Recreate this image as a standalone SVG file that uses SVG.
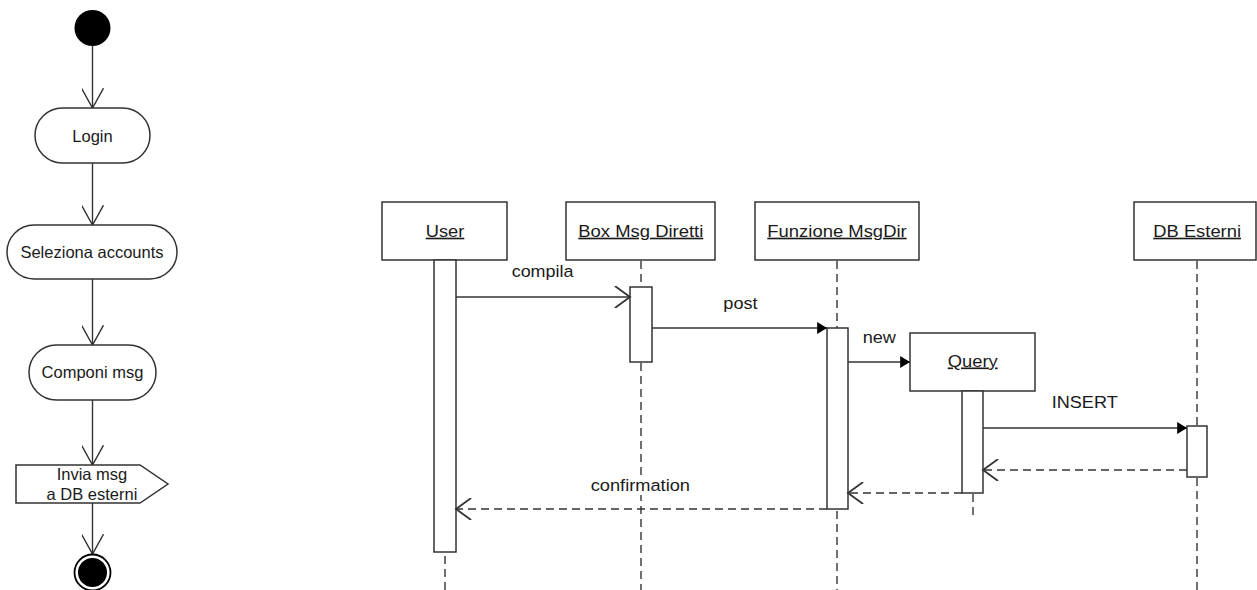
<svg xmlns="http://www.w3.org/2000/svg" width="1257" height="590" viewBox="0 0 1257 590">
<defs>
<style>
.ln{fill:none;stroke:#333;stroke-width:1.4}
.box{fill:#fff;stroke:#333;stroke-width:1.5}
.dash{fill:none;stroke:#333;stroke-width:1.4;stroke-dasharray:8 5}
.t{font-family:"Liberation Sans",Arial,sans-serif;fill:#1a1a1a}
.ta{font-size:16.5px;text-anchor:middle}
.ts{font-size:16.3px}
.u{text-decoration:underline}
</style>
<marker id="open" markerWidth="22" markerHeight="22" refX="11" refY="8" orient="auto" markerUnits="userSpaceOnUse" viewBox="0 0 12 16">
<path d="M0,0 L11,8 L0,16" fill="none" stroke="#333" stroke-width="1.3"/>
</marker>
<marker id="vopen" markerWidth="22" markerHeight="22" refX="18" refY="10" orient="auto" markerUnits="userSpaceOnUse" viewBox="0 0 20 20">
<path d="M0,0 L18,10 L0,20" fill="none" stroke="#333" stroke-width="1.3"/>
</marker>
<marker id="fill" markerWidth="12" markerHeight="12" refX="9" refY="5.5" orient="auto" markerUnits="userSpaceOnUse" viewBox="0 0 10 11">
<path d="M0,0 L9,5.5 L0,11 Z" fill="#000"/>
</marker>
</defs>
<rect width="1257" height="590" fill="#fff"/>

<!-- Activity diagram connectors -->
<g id="activity-connectors">
<line class="ln" x1="92.5" y1="46" x2="92.5" y2="108" marker-end="url(#vopen)"/>
<line class="ln" x1="92.5" y1="163" x2="92.5" y2="225" marker-end="url(#vopen)"/>
<line class="ln" x1="92.5" y1="279" x2="92.5" y2="345" marker-end="url(#vopen)"/>
<line class="ln" x1="92.5" y1="400" x2="92.5" y2="465" marker-end="url(#vopen)"/>
<line class="ln" x1="92.5" y1="503" x2="92.5" y2="554" marker-end="url(#vopen)"/>
</g>

<g id="start"><circle cx="92.5" cy="28" r="18" fill="#000"/></g>
<g id="login">
<rect class="box" x="35" y="108" width="115" height="55" rx="27.5"/>
<text class="t ta" x="92.5" y="141.5">Login</text>
</g>
<g id="seleziona">
<rect class="box" x="7" y="225" width="170" height="54" rx="27"/>
<text class="t ta" x="92" y="257.5">Seleziona accounts</text>
</g>
<g id="componi">
<rect class="box" x="29" y="345" width="127" height="55" rx="27.5"/>
<text class="t ta" x="92.5" y="378">Componi msg</text>
</g>
<g id="invia">
<path class="box" d="M16,465 L140,465 L168,484 L140,503 L16,503 Z"/>
<text class="t ta" x="92" y="480">Invia msg</text>
<text class="t ta" x="92" y="499.5">a DB esterni</text>
</g>
<g id="end">
<circle cx="92.5" cy="572.5" r="18" fill="#fff" stroke="#000" stroke-width="1.8"/>
<circle cx="92.5" cy="572.5" r="14.5" fill="#000"/>
</g>

<!-- Sequence diagram lifelines -->
<g id="lifelines">
<line class="dash" x1="445" y1="556" x2="445" y2="590"/>
<line class="dash" x1="641" y1="261" x2="641" y2="287"/>
<line class="dash" x1="641" y1="363" x2="641" y2="590"/>
<line class="dash" x1="837" y1="261" x2="837" y2="328"/>
<line class="dash" x1="837" y1="511" x2="837" y2="590"/>
<line class="dash" x1="973" y1="494" x2="973" y2="517"/>
<line class="dash" x1="1197" y1="261" x2="1197" y2="426"/>
<line class="dash" x1="1197" y1="478" x2="1197" y2="590"/>
</g>

<g id="user">
<rect class="box" x="382" y="202" width="125" height="58"/>
<text class="t ts u" x="425.7" y="236.7" textLength="38.6" lengthAdjust="spacingAndGlyphs">User</text>
<rect class="box" x="434" y="260" width="22" height="292"/>
</g>
<g id="boxmsg">
<rect class="box" x="566" y="202" width="149" height="58"/>
<text class="t ts u" x="578.3" y="236.7" textLength="125" lengthAdjust="spacingAndGlyphs">Box Msg Diretti</text>
<rect class="box" x="630" y="287" width="22" height="75"/>
</g>
<g id="funzione">
<rect class="box" x="755" y="202" width="164" height="58"/>
<text class="t ts u" x="767.3" y="236.7" textLength="139.4" lengthAdjust="spacingAndGlyphs">Funzione MsgDir</text>
<rect class="box" x="827" y="328" width="21" height="181"/>
</g>
<g id="query">
<rect class="box" x="910" y="333" width="125" height="58"/>
<text class="t ts u" x="947.7" y="366.5" textLength="50" lengthAdjust="spacingAndGlyphs">Query</text>
<rect class="box" x="962" y="391" width="21" height="102"/>
</g>
<g id="dbesterni">
<rect class="box" x="1134" y="202" width="122" height="58"/>
<text class="t ts u" x="1153.3" y="236.7" textLength="87.7" lengthAdjust="spacingAndGlyphs">DB Esterni</text>
<rect class="box" x="1187" y="426" width="20" height="51"/>
</g>

<!-- Messages -->
<g id="messages">
<line class="ln" x1="456" y1="297" x2="630" y2="297" marker-end="url(#open)"/>
<line class="ln" x1="652" y1="328" x2="827" y2="328" marker-end="url(#fill)"/>
<line class="ln" x1="848" y1="362" x2="910" y2="362" marker-end="url(#fill)"/>
<line class="ln" x1="983" y1="428" x2="1187" y2="428" marker-end="url(#fill)"/>
<line class="dash" x1="1187" y1="470" x2="983" y2="470" marker-end="url(#open)"/>
<line class="dash" x1="962" y1="493" x2="848" y2="493" marker-end="url(#open)"/>
<line class="dash" x1="827" y1="509" x2="456" y2="509" marker-end="url(#open)"/>
<rect x="509" y="262" width="67" height="20" fill="#fff"/>
<text class="t ts" x="511.7" y="277" textLength="61.7" lengthAdjust="spacingAndGlyphs">compila</text>
<rect x="721" y="294" width="39" height="20" fill="#fff"/>
<text class="t ts" x="723.3" y="309" textLength="34.3" lengthAdjust="spacingAndGlyphs">post</text>
<rect x="860" y="328" width="39" height="19" fill="#fff"/>
<text class="t ts" x="862.7" y="342.7" textLength="33.3" lengthAdjust="spacingAndGlyphs">new</text>
<rect x="1049" y="393" width="71" height="19" fill="#fff"/>
<text class="t ts" x="1051.7" y="408.3" textLength="66" lengthAdjust="spacingAndGlyphs">INSERT</text>
<rect x="588" y="475" width="104" height="20" fill="#fff"/>
<text class="t ts" x="590.7" y="491" textLength="99.3" lengthAdjust="spacingAndGlyphs">confirmation</text>
</g>
</svg>
